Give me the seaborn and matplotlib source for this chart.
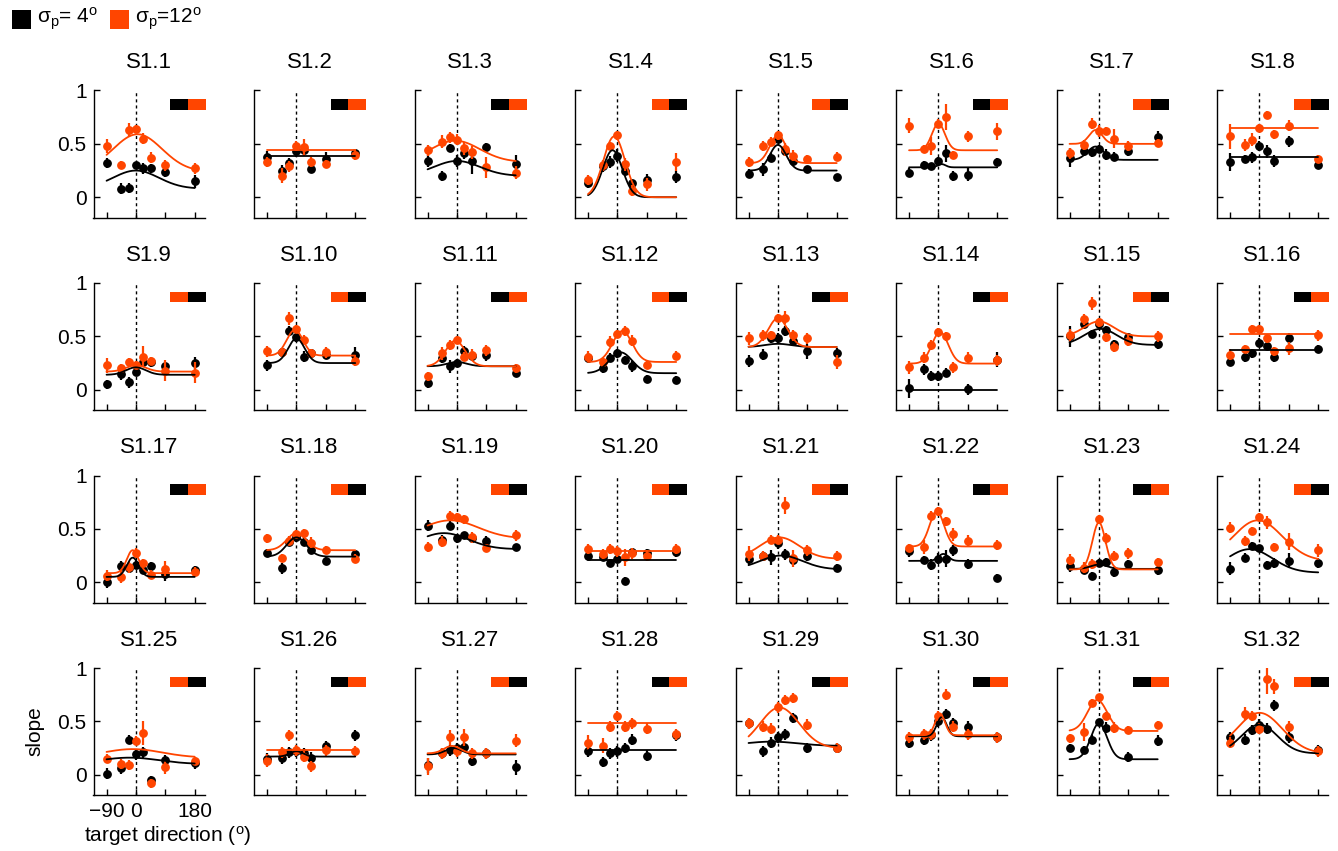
import numpy as np
import pandas as pd
import matplotlib
matplotlib.use("Agg")
import matplotlib.pyplot as plt
from matplotlib.patches import Rectangle
import seaborn as sns

sns.set_theme(style="ticks")
plt.rcParams["font.family"] = ["Liberation Sans", "DejaVu Sans"]
plt.rcParams["mathtext.fontset"] = "custom"
plt.rcParams["mathtext.rm"] = "Liberation Sans"
plt.rcParams["mathtext.it"] = "Liberation Sans:italic"
plt.rcParams["mathtext.default"] = "regular"
for key in ("text.color", "axes.labelcolor", "xtick.color", "ytick.color",
            "axes.edgecolor"):
    plt.rcParams[key] = "black"

# ---------------------------------------------------------------- data
DIRECTIONS = [-90, -45, -22.5, 0, 22.5, 45, 90, 180]
TITLES = [f"S1.{i}" for i in range(1, 33)]

NAN = np.nan

# slopes for sigma_p = 4 deg (black)
SLOPE_4 = [
    [0.32, 0.08, 0.085, 0.30, 0.27, 0.27, 0.24, 0.15],
    [0.38, 0.25, 0.32, 0.43, 0.44, 0.26, 0.36, 0.41],
    [0.34, 0.20, 0.46, 0.34, 0.41, 0.34, 0.47, 0.31],
    [0.13, 0.29, 0.33, 0.39, 0.25, 0.13, 0.16, 0.19],
    [0.22, 0.26, 0.37, 0.55, 0.43, 0.34, 0.26, 0.19],
    [0.23, 0.30, 0.29, 0.34, 0.41, 0.20, 0.21, 0.33],
    [0.37, 0.43, 0.42, 0.45, 0.40, 0.38, 0.43, 0.56],
    [0.33, 0.36, 0.375, 0.48, 0.43, 0.34, 0.525, 0.30],
    [0.05, 0.15, 0.07, 0.17, 0.26, 0.26, 0.22, 0.25],
    [0.23, 0.35, 0.55, 0.49, 0.31, 0.34, 0.33, 0.33],
    [0.065, 0.30, 0.22, 0.25, 0.36, 0.32, 0.33, 0.16],
    [0.30, 0.20, 0.30, 0.34, 0.28, 0.22, 0.10, 0.09],
    [0.27, 0.33, 0.48, 0.48, 0.55, 0.46, 0.36, 0.34],
    [0.015, 0.19, 0.13, 0.13, 0.16, NAN, 0.003, 0.28],
    [0.50, 0.62, 0.52, 0.62, 0.56, 0.425, 0.49, 0.425],
    [0.26, 0.31, 0.34, 0.44, 0.41, 0.31, 0.48, 0.38],
    [0.0, 0.15, 0.13, 0.16, 0.115, 0.15, 0.08, 0.115],
    [0.275, 0.13, 0.38, 0.42, 0.38, 0.30, 0.20, 0.26],
    [0.53, 0.40, 0.53, 0.41, 0.44, 0.41, 0.39, 0.33],
    [0.245, 0.235, 0.18, 0.22, 0.01, 0.28, 0.27, 0.28],
    [0.22, 0.245, 0.235, 0.365, 0.26, 0.21, 0.25, 0.135],
    [0.29, 0.21, 0.165, 0.22, 0.22, 0.30, 0.17, 0.04],
    [0.15, 0.115, 0.06, 0.18, 0.19, 0.095, 0.17, 0.11],
    [0.125, 0.23, 0.34, 0.32, 0.16, 0.18, 0.20, 0.18],
    [0.01, 0.06, 0.33, 0.19, 0.21, -0.05, 0.135, 0.11],
    [0.15, 0.16, 0.21, 0.22, 0.20, 0.16, 0.27, 0.37],
    [0.09, 0.20, 0.23, 0.25, 0.26, 0.13, 0.20, 0.07],
    [0.22, 0.12, 0.20, 0.22, 0.25, 0.33, 0.18, 0.37],
    [0.48, 0.22, 0.30, 0.35, 0.38, 0.53, 0.25, 0.25],
    [0.30, 0.33, 0.37, 0.50, 0.57, 0.48, 0.45, 0.35],
    [0.25, 0.23, 0.33, 0.49, 0.44, NAN, 0.165, 0.32],
    [0.35, 0.33, 0.42, 0.47, 0.43, 0.65, 0.35, 0.23],
]

# slopes for sigma_p = 12 deg (orange)
SLOPE_12 = [
    [0.48, 0.30, 0.63, 0.64, 0.55, 0.37, 0.30, 0.27],
    [0.33, 0.20, 0.29, 0.48, 0.47, 0.33, 0.31, 0.40],
    [0.44, 0.52, 0.56, 0.54, 0.46, 0.42, 0.28, 0.23],
    [0.16, 0.30, 0.48, 0.58, 0.31, 0.06, 0.12, 0.33],
    [0.33, 0.48, 0.52, 0.58, 0.45, 0.39, 0.36, 0.38],
    [0.67, 0.45, 0.48, 0.69, 0.75, 0.40, 0.57, 0.62],
    [0.41, 0.49, 0.69, 0.62, 0.62, 0.55, 0.48, 0.51],
    [0.57, 0.49, 0.54, 0.65, 0.77, 0.59, 0.67, 0.36],
    [0.23, 0.20, 0.26, 0.23, 0.31, 0.27, 0.18, 0.16],
    [0.36, 0.35, 0.67, 0.57, 0.47, 0.34, 0.35, 0.27],
    [0.125, 0.34, 0.42, 0.47, 0.31, 0.33, 0.37, 0.20],
    [0.31, 0.26, 0.45, 0.52, 0.55, 0.46, 0.23, 0.32],
    [0.48, 0.51, 0.51, 0.67, 0.675, 0.51, 0.48, 0.26],
    [0.21, 0.30, 0.42, 0.54, 0.50, 0.21, 0.30, 0.275],
    [0.51, 0.66, 0.81, 0.63, 0.49, 0.40, 0.46, 0.50],
    [0.33, 0.38, 0.57, 0.57, 0.48, 0.36, 0.39, 0.51],
    [0.06, 0.05, 0.14, 0.275, 0.18, 0.07, 0.125, 0.10],
    [0.41, 0.225, 0.39, 0.45, 0.46, 0.37, 0.30, 0.22],
    [0.33, 0.38, 0.625, 0.61, 0.59, 0.42, 0.32, 0.44],
    [0.31, 0.265, 0.31, 0.29, 0.235, 0.27, 0.25, 0.31],
    [0.265, 0.25, 0.40, 0.40, 0.72, 0.225, 0.30, 0.245],
    [0.32, 0.33, 0.625, 0.665, 0.57, 0.45, 0.39, 0.35],
    [0.21, 0.135, 0.17, 0.59, 0.41, 0.245, 0.27, 0.19],
    [0.51, 0.385, 0.48, 0.61, 0.56, 0.33, 0.38, 0.30],
    [0.15, 0.10, 0.09, 0.32, 0.39, -0.08, 0.07, 0.13],
    [0.13, 0.21, 0.37, 0.23, 0.17, 0.08, 0.23, 0.22],
    [0.08, 0.20, 0.35, 0.22, 0.35, 0.20, 0.20, 0.32],
    [0.30, 0.27, 0.45, 0.55, 0.45, 0.48, 0.43, 0.38],
    [0.48, 0.45, 0.43, 0.63, 0.70, 0.72, 0.47, 0.25],
    [0.35, 0.38, 0.38, 0.55, 0.75, 0.45, 0.38, 0.35],
    [0.34, 0.40, 0.67, 0.73, 0.55, 0.44, 0.42, 0.465],
    [0.30, 0.57, 0.55, 0.43, 0.90, 0.83, 0.45, 0.22],
]

# half-length of the error bars
ERR_4 = [
    [0.05, 0.05, 0.05, 0.03, 0.05, 0.04, 0.05, 0.06],
    [0.05, 0.05, 0.05, 0.05, 0.04, 0.03, 0.06, 0.04],
    [0.06, 0.05, 0.04, 0.06, 0.05, 0.12, 0.04, 0.09],
    [0.04, 0.05, 0.06, 0.06, 0.04, 0.03, 0.06, 0.06],
    [0.04, 0.06, 0.04, 0.03, 0.04, 0.05, 0.03, 0.03],
    [0.04, 0.04, 0.03, 0.04, 0.08, 0.05, 0.06, 0.04],
    [0.09, 0.04, 0.04, 0.04, 0.05, 0.04, 0.04, 0.06],
    [0.08, 0.04, 0.05, 0.05, 0.06, 0.06, 0.05, 0.03],
    [0.04, 0.06, 0.05, 0.04, 0.04, 0.05, 0.03, 0.06],
    [0.05, 0.04, 0.05, 0.04, 0.05, 0.04, 0.04, 0.07],
    [0.05, 0.05, 0.06, 0.04, 0.05, 0.04, 0.06, 0.03],
    [0.04, 0.04, 0.04, 0.04, 0.04, 0.05, 0.04, 0.04],
    [0.06, 0.05, 0.04, 0.05, 0.05, 0.04, 0.07, 0.05],
    [0.09, 0.05, 0.05, 0.05, 0.04, 0.00, 0.05, 0.07],
    [0.10, 0.05, 0.04, 0.04, 0.04, 0.04, 0.04, 0.04],
    [0.04, 0.05, 0.04, 0.04, 0.04, 0.05, 0.05, 0.04],
    [0.05, 0.05, 0.04, 0.04, 0.04, 0.04, 0.07, 0.04],
    [0.04, 0.05, 0.04, 0.04, 0.04, 0.04, 0.04, 0.04],
    [0.05, 0.04, 0.04, 0.04, 0.03, 0.04, 0.04, 0.03],
    [0.04, 0.04, 0.04, 0.04, 0.04, 0.04, 0.04, 0.04],
    [0.06, 0.04, 0.07, 0.05, 0.05, 0.05, 0.05, 0.04],
    [0.05, 0.04, 0.05, 0.05, 0.08, 0.05, 0.05, 0.04],
    [0.05, 0.04, 0.04, 0.04, 0.04, 0.05, 0.04, 0.04],
    [0.06, 0.04, 0.04, 0.03, 0.04, 0.05, 0.07, 0.05],
    [0.05, 0.05, 0.04, 0.05, 0.05, 0.04, 0.05, 0.06],
    [0.05, 0.06, 0.05, 0.05, 0.05, 0.05, 0.05, 0.05],
    [0.07, 0.05, 0.05, 0.05, 0.05, 0.05, 0.05, 0.07],
    [0.05, 0.05, 0.05, 0.05, 0.05, 0.05, 0.05, 0.05],
    [0.05, 0.05, 0.05, 0.05, 0.05, 0.05, 0.05, 0.05],
    [0.05, 0.05, 0.05, 0.05, 0.05, 0.05, 0.05, 0.05],
    [0.04, 0.04, 0.04, 0.03, 0.05, 0.00, 0.05, 0.05],
    [0.05, 0.05, 0.05, 0.05, 0.05, 0.05, 0.05, 0.05],
]

ERR_12 = [
    [0.07, 0.04, 0.07, 0.04, 0.05, 0.05, 0.05, 0.05],
    [0.05, 0.07, 0.05, 0.05, 0.08, 0.05, 0.04, 0.05],
    [0.05, 0.06, 0.05, 0.05, 0.06, 0.06, 0.10, 0.06],
    [0.05, 0.05, 0.04, 0.04, 0.06, 0.05, 0.06, 0.08],
    [0.05, 0.05, 0.04, 0.04, 0.06, 0.05, 0.04, 0.04],
    [0.07, 0.04, 0.08, 0.04, 0.12, 0.03, 0.05, 0.08],
    [0.05, 0.05, 0.05, 0.06, 0.04, 0.09, 0.05, 0.04],
    [0.12, 0.06, 0.06, 0.04, 0.04, 0.04, 0.05, 0.04],
    [0.07, 0.04, 0.04, 0.04, 0.10, 0.04, 0.10, 0.10],
    [0.05, 0.04, 0.06, 0.04, 0.04, 0.04, 0.05, 0.05],
    [0.04, 0.06, 0.05, 0.03, 0.04, 0.05, 0.05, 0.04],
    [0.05, 0.04, 0.05, 0.04, 0.05, 0.05, 0.04, 0.04],
    [0.06, 0.05, 0.04, 0.04, 0.06, 0.05, 0.05, 0.07],
    [0.06, 0.05, 0.05, 0.04, 0.04, 0.05, 0.05, 0.05],
    [0.06, 0.05, 0.06, 0.04, 0.04, 0.05, 0.05, 0.05],
    [0.05, 0.04, 0.04, 0.04, 0.04, 0.04, 0.06, 0.05],
    [0.05, 0.06, 0.05, 0.05, 0.04, 0.04, 0.07, 0.04],
    [0.04, 0.04, 0.04, 0.04, 0.04, 0.05, 0.04, 0.04],
    [0.05, 0.05, 0.04, 0.04, 0.04, 0.05, 0.04, 0.05],
    [0.05, 0.05, 0.05, 0.05, 0.08, 0.05, 0.05, 0.05],
    [0.07, 0.04, 0.04, 0.04, 0.08, 0.08, 0.05, 0.05],
    [0.04, 0.07, 0.04, 0.04, 0.04, 0.06, 0.05, 0.05],
    [0.05, 0.05, 0.05, 0.04, 0.05, 0.05, 0.05, 0.04],
    [0.05, 0.05, 0.04, 0.04, 0.06, 0.04, 0.08, 0.06],
    [0.04, 0.05, 0.05, 0.04, 0.11, 0.04, 0.06, 0.04],
    [0.06, 0.05, 0.05, 0.05, 0.05, 0.05, 0.05, 0.05],
    [0.08, 0.05, 0.07, 0.05, 0.08, 0.05, 0.05, 0.06],
    [0.07, 0.07, 0.05, 0.05, 0.05, 0.05, 0.05, 0.05],
    [0.05, 0.05, 0.05, 0.05, 0.05, 0.05, 0.05, 0.05],
    [0.05, 0.05, 0.05, 0.05, 0.05, 0.05, 0.05, 0.05],
    [0.04, 0.08, 0.04, 0.03, 0.04, 0.05, 0.04, 0.04],
    [0.05, 0.06, 0.05, 0.05, 0.14, 0.07, 0.05, 0.05],
]

# Gaussian tuning fits: (baseline, amplitude, centre deg, width deg)
FIT_4 = [
    (0.08, 0.17, 0, 70), (0.39, 0.0, 0, 30), (0.20, 0.14, 0, 70), (0.0, 0.44, -15, 30),
    (0.25, 0.24, 0, 25), (0.28, 0.03, 10, 12), (0.35, 0.125, -10, 25), (0.38, 0.0, 0, 30),
    (0.14, 0.07, 0, 30), (0.25, 0.23, 0, 25), (0.22, 0.04, 0, 30), (0.155, 0.195, 10, 35),
    (0.40, 0.03, 0, 40), (0.0, 0.0, 0, 30), (0.42, 0.15, 5, 50), (0.37, 0.0, 0, 30),
    (0.05, 0.18, -10, 18), (0.24, 0.18, 0, 30), (0.31, 0.15, -40, 75), (0.21, 0.0, 0, 30),
    (0.12, 0.13, 10, 65), (0.20, 0.065, 15, 15), (0.125, 0.04, 0, 25), (0.09, 0.22, -30, 70),
    (0.10, 0.06, -20, 90), (0.17, 0.05, 0, 20), (0.19, 0.06, -10, 25), (0.23, 0.0, 0, 30),
    (0.27, 0.04, -20, 80), (0.36, 0.18, 10, 15), (0.145, 0.335, 0, 25), (0.20, 0.27, 0, 55),
]

FIT_12 = [
    (0.24, 0.35, 5, 75), (0.44, 0.0, 0, 30), (0.33, 0.20, -5, 75), (0.0, 0.57, -10, 33),
    (0.32, 0.26, 0, 25), (0.44, 0.25, 0, 20), (0.50, 0.13, -10, 20), (0.65, 0.0, 0, 30),
    (0.17, 0.06, 0, 30), (0.32, 0.24, -5, 25), (0.22, 0.24, -5, 30), (0.26, 0.29, 15, 30),
    (0.40, 0.27, 0, 30), (0.245, 0.295, 5, 25), (0.50, 0.14, 0, 45), (0.525, 0.0, 0, 30),
    (0.085, 0.215, -10, 18), (0.30, 0.16, 0, 30), (0.41, 0.17, -20, 85), (0.29, 0.0, 0, 30),
    (0.22, 0.20, 5, 60), (0.335, 0.33, -5, 22), (0.12, 0.44, 0, 20), (0.20, 0.38, -5, 75),
    (0.16, 0.08, -10, 90), (0.23, 0.0, 0, 30), (0.20, 0.07, -15, 25), (0.48, 0.0, 0, 30),
    (0.25, 0.38, 5, 60), (0.37, 0.20, 5, 15), (0.41, 0.29, -5, 30), (0.20, 0.38, 0, 70),
]

# order of the two colour blocks in each panel's key (True: black first)
BLACK_FIRST = [
    True, True, True, False, False, True, False, False,
    False, False, True, False, True, True, False, True,
    True, False, False, False, False, True, True, False,
    False, True, False, True, True, True, True, False,
]

BLACK = "#000000"
ORANGE = "#ff4500"

# ---------------------------------------------------------------- layout
W, H = 1338, 851
fig = plt.figure(figsize=(W / 100, H / 100), dpi=100)

AX_W, AX_H = 111, 127
X0, DX = 93.5, 160.5
Y0, DY = 90.5, 192.5
FS = 15

curve_x = np.linspace(-90, 180, 361)


def gauss(params):
    base, amp, mu, sig = params
    return base + amp * np.exp(-(curve_x - mu) ** 2 / (2.0 * sig ** 2))


for i in range(32):
    r, c = divmod(i, 8)
    left = X0 + DX * c
    top = Y0 + DY * r
    ax = fig.add_axes([left / W, 1 - (top + AX_H) / H, AX_W / W, AX_H / H])

    ax.axvline(0, color="black", lw=1.0, ls=(0, (2.2, 2.2)), zorder=1)

    for ys, es, fit, col, z in (
        (SLOPE_4[i], ERR_4[i], FIT_4[i], BLACK, 3),
        (SLOPE_12[i], ERR_12[i], FIT_12[i], ORANGE, 4),
    ):
        curve = pd.DataFrame({"direction": curve_x, "slope": gauss(fit)})
        sns.lineplot(data=curve, x="direction", y="slope", ax=ax, color=col,
                     lw=1.3, zorder=z + 2)
        ax.errorbar(DIRECTIONS, ys, yerr=es, fmt="o", color=col, ms=5.3,
                    elinewidth=1.6, capsize=0, zorder=z)

    # colour key
    first, second = (BLACK, ORANGE) if BLACK_FIRST[i] else (ORANGE, BLACK)
    ax.add_patch(Rectangle((0.69, 0.848), 0.16, 0.085, transform=ax.transAxes,
                           color=first, clip_on=False, zorder=6, lw=0))
    ax.add_patch(Rectangle((0.85, 0.848), 0.16, 0.085, transform=ax.transAxes,
                           color=second, clip_on=False, zorder=6, lw=0))

    ax.set_xlim(-130, 210)
    ax.set_ylim(-0.19, 1.0)
    ax.set_xticks([-90, 0, 90, 180])
    ax.set_yticks([0, 0.5, 1])
    ax.set_xlabel("")
    ax.set_ylabel("")
    if c == 0:
        ax.set_yticklabels(["0", "0.5", "1"])
    else:
        ax.set_yticklabels([])
    if i == 24:
        ax.set_xticklabels(["\u221290", "0", "", "180"])
        ax.set_ylabel("slope", fontsize=FS, labelpad=9)
    else:
        ax.set_xticklabels([])

    ax.tick_params(direction="in", length=4, width=1, labelsize=FS, pad=5,
                   color="black", labelcolor="black")
    for s in ("top", "right"):
        ax.spines[s].set_visible(False)
    for s in ("left", "bottom"):
        ax.spines[s].set_color("black")
        ax.spines[s].set_linewidth(1.0)
    ax.set_title(TITLES[i], fontsize=16, pad=16, color="black")

fig.text(168 / W, 1 - 836 / H, "target direction ($^o$)", fontsize=FS,
         ha="center", va="center")

# figure key
for x_sq, col, label in ((12, BLACK, "\u03c3$_p$= 4$^o$"), (110, ORANGE, "\u03c3$_p$=12$^o$")):
    fig.patches.append(Rectangle((x_sq / W, 1 - 29 / H), 19 / W, 19 / H,
                                 transform=fig.transFigure, color=col, lw=0))
    fig.text((x_sq + 25) / W, 1 - 19 / H, label, fontsize=15, ha="left",
             va="center")

fig.savefig("out.png", dpi=100)
